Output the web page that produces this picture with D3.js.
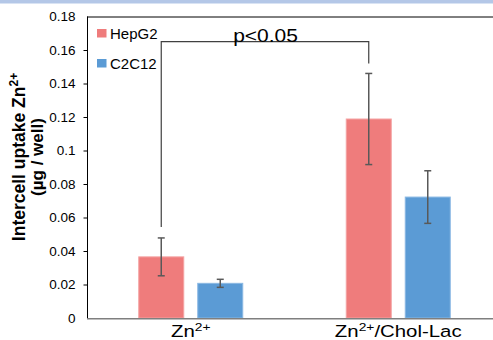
<!DOCTYPE html>
<html>
<head>
<meta charset="utf-8">
<script src="https://cdn.jsdelivr.net/npm/d3@7"></script>
<style>
  body { margin: 0; background: #fff; }
  svg { display: block; font-family: 'Liberation Sans', Arial, sans-serif; }
</style>
</head>
<body>
<div id="chart"></div>
<script>
// data
const categories = ['Zn2+', 'Zn2+/Chol-Lac'];
const catSuffix = ['', '/Chol-Lac'];
const seriesNames = ['HepG2', 'C2C12'];
const hepg2 = [0.0365, 0.1188];
const hepg2Err = [0.0113, 0.0272];
const c2c12 = [0.0207, 0.0722];
const c2c12Err = [0.0024, 0.0157];
const yTicks = [0, 0.02, 0.04, 0.06, 0.08, 0.1, 0.12, 0.14, 0.16, 0.18];
const colors = ['#ef7c7c', '#5b9bd5'];
const edge = ['#f4a3a3', '#8ab8e3'];

const W = 493, H = 340;
const svg = d3.select('#chart').append('svg')
  .attr('width', W).attr('height', H);

// light band on top
svg.append('rect').attr('x', 0).attr('y', 0).attr('width', W).attr('height', 3.5)
  .attr('fill', '#b4c7e7');

const y = d3.scaleLinear().domain([0, 0.18]).range([318, 16.5]);
const x0 = d3.scaleBand().domain(categories).range([87, 502])
  .paddingInner(1 - 105 / 207.5).paddingOuter((1 - 105 / 207.5) / 2);
const x1 = d3.scaleBand().domain(seriesNames).range([0, x0.bandwidth()])
  .paddingInner(13 / 59);

const rows = categories.map((c, i) => [
  { cat: c, key: 'HepG2', v: hepg2[i], e: hepg2Err[i], s: 0 },
  { cat: c, key: 'C2C12', v: c2c12[i], e: c2c12Err[i], s: 1 }
]).flat();

// y axis
const yAxis = svg.append('g')
  .attr('transform', 'translate(87.5,0)')
  .call(d3.axisLeft(y).tickValues(yTicks).tickSize(4).tickPadding(8)
    .tickFormat(d => d === 0 ? '0' : String(+d.toFixed(2))));
yAxis.select('.domain').remove();
yAxis.selectAll('.tick line').attr('stroke', '#000')
  .filter(d => d === 0 || d === 0.18).remove();
yAxis.selectAll('.tick text').attr('font-size', 13.5).attr('fill', '#000')
  .attr('font-family', 'Liberation Sans, Arial, sans-serif');

// frame lines
svg.append('line').attr('x1', 87.5).attr('x2', 87.5).attr('y1', y(0.18)).attr('y2', y(0))
  .attr('stroke', '#000');
svg.append('line').attr('x1', 87).attr('x2', W).attr('y1', y(0.18) + 0.5).attr('y2', y(0.18) + 0.5)
  .attr('stroke', '#000');

// bars
svg.selectAll('.bar').data(rows).enter().append('rect')
  .attr('x', d => x0(d.cat) + x1(d.key) + 0.5)
  .attr('y', d => y(d.v))
  .attr('width', x1.bandwidth() - 1)
  .attr('height', d => y(0) - y(d.v))
  .attr('fill', d => colors[d.s])
  .attr('stroke', d => edge[d.s])
  .attr('stroke-width', 1);

// x axis line
svg.append('line').attr('x1', 87).attr('x2', W).attr('y1', y(0) + 0.75).attr('y2', y(0) + 0.75)
  .attr('stroke', '#7f7f7f').attr('stroke-width', 1.5);

// error bars
const eb = svg.selectAll('.err').data(rows).enter().append('g')
  .attr('stroke', '#595959').attr('stroke-width', 1.5);
const cx = d => x0(d.cat) + x1(d.key) + x1.bandwidth() / 2;
eb.append('line').attr('x1', cx).attr('x2', cx)
  .attr('y1', d => y(d.v + d.e)).attr('y2', d => y(d.v - d.e));
eb.append('line').attr('x1', d => cx(d) - 3.5).attr('x2', d => cx(d) + 3.5)
  .attr('y1', d => y(d.v + d.e)).attr('y2', d => y(d.v + d.e));
eb.append('line').attr('x1', d => cx(d) - 3.5).attr('x2', d => cx(d) + 3.5)
  .attr('y1', d => y(d.v - d.e)).attr('y2', d => y(d.v - d.e));

// significance bracket between the HepG2 bars
const a = rows[0], b = rows[2];
const by = y(0.165);
svg.append('path')
  .attr('d', `M${cx(a)},${y(a.v + a.e) - 11}V${by}H${cx(b)}V${y(b.v + b.e) - 10}`)
  .attr('fill', 'none').attr('stroke', '#404040').attr('stroke-width', 1.2);
svg.append('text')
  .attr('transform', `translate(${(cx(a) + cx(b)) / 2 + 0.5},41.5) scale(1.2,1)`)
  .attr('text-anchor', 'middle').attr('font-size', 17.5).attr('fill', '#000')
  .text('p<0.05');

// x labels with superscript
categories.forEach((c, i) => {
  const t = svg.append('text')
    .attr('transform', `translate(${x0(c) + x0.bandwidth() / 2},337) scale(1.2,1)`)
    .attr('text-anchor', 'middle').attr('font-size', 17).attr('fill', '#000');
  t.append('tspan').text('Zn');
  t.append('tspan').attr('dy', -6).attr('font-size', 11.5).text('2+');
  if (catSuffix[i]) t.append('tspan').attr('dy', 6).text(catSuffix[i]);
});

// y title
const t1 = svg.append('text').attr('transform', 'translate(24.5,157) rotate(-90)')
  .attr('text-anchor', 'middle').attr('font-size', 17.5).attr('font-weight', 'bold');
t1.append('tspan').text('Intercell uptake Zn');
t1.append('tspan').attr('dy', -7).attr('font-size', 12).text('2+');
svg.append('text').attr('transform', 'translate(43,157) rotate(-90)')
  .attr('text-anchor', 'middle').attr('font-size', 17).attr('font-weight', 'bold')
  .text('(µg / well)');

// legend
seriesNames.forEach((s, i) => {
  const g = svg.append('g').attr('transform', `translate(97,${29 + i * 30})`);
  g.append('rect').attr('width', 9.5).attr('height', 8.5).attr('fill', colors[i]);
  g.append('text').attr('x', 13).attr('y', 9.5).attr('font-size', 15).attr('fill', '#000').text(s);
});
</script>
</body>
</html>
